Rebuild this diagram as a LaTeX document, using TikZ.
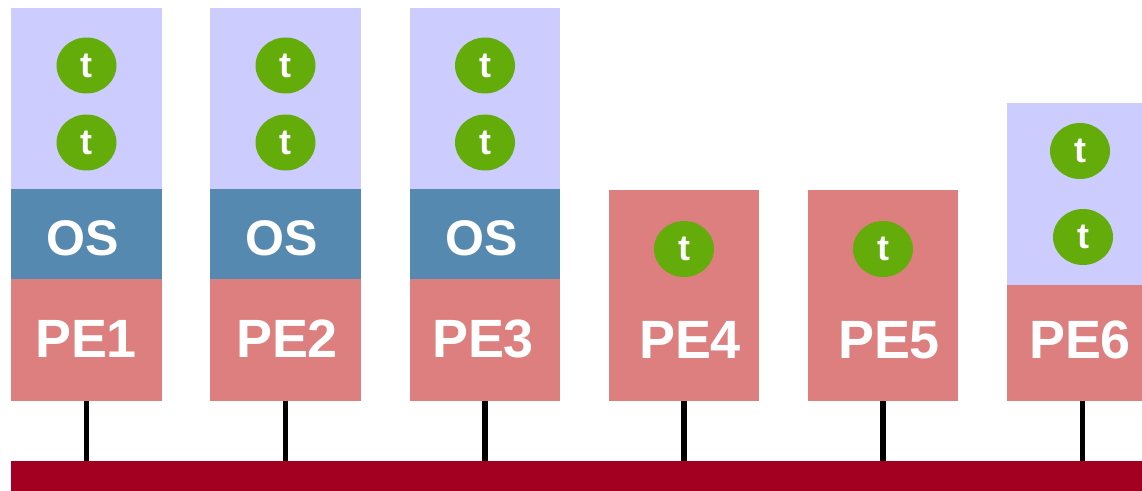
\documentclass[tikz,border=0pt]{standalone}
\usepackage{fontspec}
\setmainfont{Liberation Sans}
\usepackage{tikz}
\usetikzlibrary{shapes.geometric}
\definecolor{tasklav}{HTML}{CCCCFF}
\definecolor{osblue}{HTML}{5689AF}
\definecolor{pered}{HTML}{DC7F7E}
\definecolor{taskgreen}{HTML}{64AC0A}
\definecolor{busred}{HTML}{A30021}

\begin{document}
\begin{tikzpicture}[x=0.02cm,y=-0.02cm]
        \tikzstyle{layer}=[rectangle,minimum width=3.02cm,inner sep=0pt]
        \tikzstyle{pebox}=[layer,fill=pered]
        \tikzstyle{osbox}=[layer,fill=osblue,minimum height=1.8cm]
        \tikzstyle{tasks}=[layer,fill=tasklav]
        \tikzstyle{task}=[ellipse,fill=taskgreen,minimum width=1.2cm,
            minimum height=1.12cm,inner sep=0pt,text=white,
            font=\fontsize{20.5}{20.5}\selectfont\bfseries]
        \tikzstyle{pelabel}=[text=white,inner sep=0pt,
            font=\fontsize{30.7}{30.7}\selectfont\bfseries]
        \tikzstyle{oslabel}=[text=white,inner sep=0pt,
            font=\fontsize{28.5}{28.5}\selectfont\bfseries]
        \tikzstyle{wire}=[line width=0.11cm,black]
            \useasboundingbox (0,0) rectangle (1142,490);
            \clip (0,0) rectangle (1142,490);

            \node[rectangle,fill=busred,minimum width=22.98cm,
                minimum height=0.6cm,inner sep=0pt] (bus) at (585.5,476) {};

            % PEs with an OS
            \foreach \i/\x/\lx in {1/86.5/86,2/285.5/287,3/485/483} {
                \node[tasks,minimum height=3.62cm] (ts\i) at (\x,98.5) {};
                \node[task] (t\i a) at (\x,65.5) {t};
                \node[task] (t\i b) at (\x,142.5) {t};
                \node[osbox] (os\i) at (\x,234) {};
                \node[oslabel] at ([xshift=-0.07cm]os\i.center |- 0,238) {OS};
                \node[pebox,minimum height=2.44cm] (pe\i) at (\x,340) {};
                \node[pelabel] at (\lx,339) {PE\i};
                \draw[wire] (pe\i.south) -- (pe\i.south |- bus.north);
            }

            % bare PEs
            \foreach \i/\x/\lx in {4/684/690,5/883/889} {
                \node[pebox,minimum height=4.22cm] (pe\i) at (\x,295.5) {};
                \node[task] (t\i a) at (\x,249) {t};
                \node[pelabel] at (\lx,340) {PE\i};
                \draw[wire] (pe\i.south) -- (pe\i.south |- bus.north);
            }

            % PE6
            \node[tasks,minimum height=3.64cm] (ts6) at (1082.5,194) {};
            \node[task] (t6a) at (1080,151) {t};
            \node[task] (t6b) at (1083,237) {t};
            \node[pebox,minimum height=2.32cm] (pe6) at (1082.5,343) {};
            \node[pelabel] at (1080,340) {PE6};
            \draw[wire] (pe6.south) -- (pe6.south |- bus.north);
        \end{tikzpicture}
\end{document}
